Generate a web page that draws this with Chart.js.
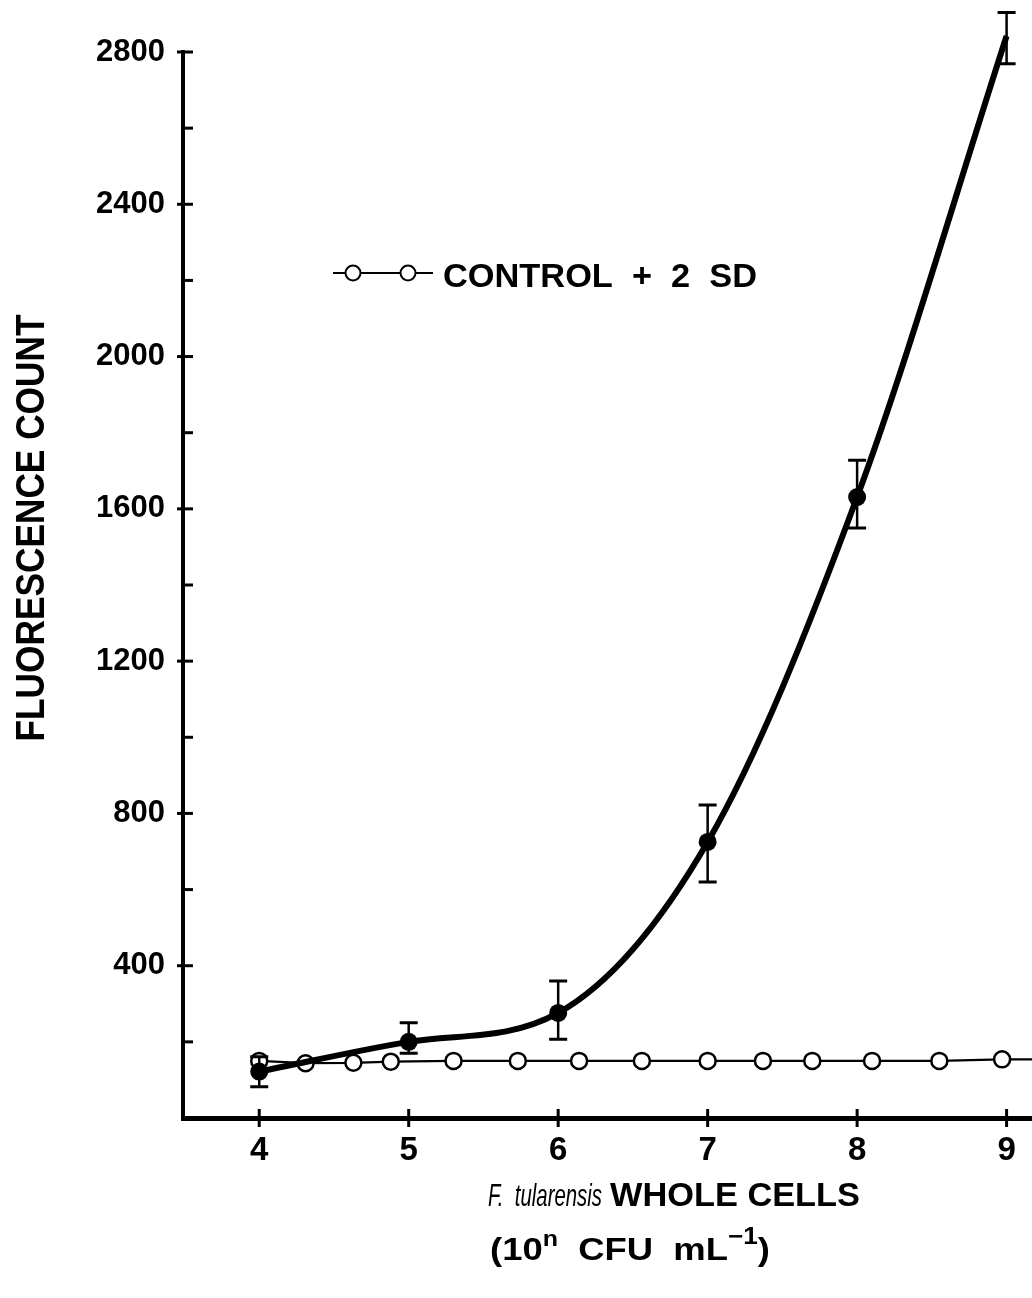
<!DOCTYPE html>
<html>
<head>
<meta charset="utf-8">
<script src="https://cdn.jsdelivr.net/npm/chart.js@4.4.1/dist/chart.umd.min.js"></script>
<style>
  html, body { margin: 0; padding: 0; background: #fff; }
</style>
</head>
<body>
<canvas id="chartFluorescence" width="1032" height="1298"></canvas>
<script>
// F. tularensis whole cells (log10 CFU/mL) vs fluorescence count
const cellLogs = [4, 5, 6, 7, 8, 9];
const fluorescence = [122, 200, 276, 725, 1631, 2842];
const errLow = [82, 170, 207, 620, 1550, 2769];
const errHigh = [161, 250, 360, 822, 1728, 2904];

// control + 2 SD baseline
const controlLogs = [4, 4.31, 4.63, 4.88, 5.3, 5.73, 6.14, 6.56, 7.0, 7.37, 7.7, 8.1, 8.55, 8.97, 9.3];
const controlCounts = [150, 144, 145, 148, 150, 150, 150, 150, 150, 150, 150, 150, 150, 154, 154];

const xTicks = [4, 5, 6, 7, 8, 9];
const yTicks = [0, 200, 400, 600, 800, 1000, 1200, 1400, 1600, 1800, 2000, 2200, 2400, 2600, 2800];
const yLabels = [400, 800, 1200, 1600, 2000, 2400, 2800];

const FONT = '"Liberation Sans", Arial, sans-serif';

// draws a run of text pieces squeezed to a given width
function drawRun(ctx, parts, x, y, width) {
  let total = 0;
  parts.forEach((p) => {
    ctx.font = p.font;
    p.w = ctx.measureText(p.text).width;
    total += p.w;
  });
  const sx = width ? width / total : 1;
  ctx.save();
  ctx.translate(x, y);
  ctx.scale(sx, 1);
  ctx.textAlign = 'left';
  ctx.textBaseline = 'alphabetic';
  let cx = 0;
  parts.forEach((p) => {
    ctx.font = p.font;
    ctx.fillText(p.text, cx, p.dy || 0);
    cx += p.w;
  });
  ctx.restore();
}

const decorations = {
  id: 'decorations',
  afterDatasetsDraw(chart) {
    const { ctx, chartArea } = chart;
    const xs = chart.scales.x;
    const ys = chart.scales.y;
    ctx.save();
    ctx.strokeStyle = '#000';
    ctx.fillStyle = '#000';
    ctx.lineCap = 'butt';

    // error bars
    cellLogs.forEach((v, i) => {
      const px = xs.getPixelForValue(v);
      const top = ys.getPixelForValue(errHigh[i]);
      const bot = ys.getPixelForValue(errLow[i]);
      ctx.lineWidth = 2.5;
      ctx.beginPath();
      ctx.moveTo(px, top);
      ctx.lineTo(px, bot);
      ctx.stroke();
      ctx.lineWidth = 3;
      ctx.beginPath();
      ctx.moveTo(px - 9, top);
      ctx.lineTo(px + 9, top);
      ctx.moveTo(px - 9, bot);
      ctx.lineTo(px + 9, bot);
      ctx.stroke();
    });

    // axis tick marks
    ctx.lineWidth = 3;
    const left = chartArea.left;
    yTicks.forEach((v) => {
      if (v === 0) return;
      const py = ys.getPixelForValue(v);
      const major = yLabels.includes(v);
      ctx.beginPath();
      ctx.moveTo(major ? left - 6 : left, py);
      ctx.lineTo(left + 10, py);
      ctx.stroke();
    });
    const bottom = chartArea.bottom;
    ctx.font = `bold 33px ${FONT}`;
    ctx.textAlign = 'center';
    ctx.textBaseline = 'alphabetic';
    xTicks.forEach((v) => {
      const px = xs.getPixelForValue(v);
      ctx.beginPath();
      ctx.moveTo(px, bottom - 9);
      ctx.lineTo(px, bottom + 9);
      ctx.stroke();
      ctx.fillText(String(v), px, 1160);
    });

    // legend
    ctx.lineWidth = 2;
    ctx.beginPath();
    ctx.moveTo(333, 273);
    ctx.lineTo(433, 273);
    ctx.stroke();
    [353, 408].forEach((cx) => {
      ctx.beginPath();
      ctx.arc(cx, 273, 7.5, 0, Math.PI * 2);
      ctx.fillStyle = '#fff';
      ctx.fill();
      ctx.stroke();
    });
    ctx.fillStyle = '#000';
    drawRun(ctx, [{ text: 'CONTROL  +  2  SD', font: `bold 34px ${FONT}` }], 443, 287, 314);

    // y title
    ctx.save();
    ctx.translate(44, 528);
    ctx.rotate(-Math.PI / 2);
    drawRun(ctx, [{ text: 'FLUORESCENCE COUNT', font: `bold 41px ${FONT}` }], -427 / 2, 0, 427);
    ctx.restore();

    // x title
    drawRun(ctx, [{ text: 'F.  tularensis', font: `italic 32px ${FONT}` }], 488, 1206, 114);
    drawRun(ctx, [{ text: 'WHOLE CELLS', font: `bold 33px ${FONT}` }], 610, 1206, 250);
    drawRun(ctx, [
      { text: '(10', font: `bold 32px ${FONT}` },
      { text: 'n', font: `bold 22px ${FONT}`, dy: -14 },
      { text: '  CFU  mL', font: `bold 32px ${FONT}` },
      { text: '\u22121', font: `bold 23px ${FONT}`, dy: -16 },
      { text: ')', font: `bold 32px ${FONT}` },
    ], 490, 1260, 280);

    ctx.restore();
  },
};

const ctx = document.getElementById('chartFluorescence').getContext('2d');
new Chart(ctx, {
  type: 'line',
  data: {
    datasets: [
      {
        label: 'F. tularensis',
        data: cellLogs.map((x, i) => ({ x, y: fluorescence[i] })),
        borderColor: '#000',
        backgroundColor: '#000',
        borderWidth: 6,
        pointRadius: 9,
        pointBorderWidth: 0,
        pointBackgroundColor: '#000',
        cubicInterpolationMode: 'monotone',
        clip: false,
      },
      {
        label: 'CONTROL + 2 SD',
        data: controlLogs.map((x, i) => ({ x, y: controlCounts[i] })),
        borderColor: '#000',
        borderWidth: 2.2,
        pointRadius: controlLogs.map((x) => (x > 9.1 ? 0 : 8)),
        pointBorderWidth: 2.5,
        pointBackgroundColor: '#fff',
        pointBorderColor: '#000',
        tension: 0,
      },
    ],
  },
  options: {
    responsive: false,
    animation: false,
    devicePixelRatio: 1,
    layout: { autoPadding: false, padding: { top: 52, right: 0, bottom: 0, left: 0 } },
    scales: {
      x: {
        type: 'linear',
        min: 3.49,
        max: 9.17,
        afterBuildTicks: (scale) => {
          scale.ticks = xTicks.map((value) => ({ value }));
        },
        afterFit: (scale) => {
          scale.height = 180;
          scale.paddingLeft = 0;
          scale.paddingRight = 0;
        },
        grid: { display: false, drawTicks: false },
        border: { display: true, color: '#000', width: 5 },
        ticks: { display: false },
      },
      y: {
        min: 0,
        max: 2800,
        afterBuildTicks: (scale) => {
          scale.ticks = yTicks.map((value) => ({ value }));
        },
        afterFit: (scale) => {
          scale.width = 183;
          scale.paddingTop = 0;
          scale.paddingBottom = 0;
        },
        grid: { display: false, drawTicks: false },
        border: { display: true, color: '#000', width: 4 },
        ticks: {
          color: '#000',
          padding: 18,
          font: { family: FONT, size: 31, weight: 'bold' },
          callback: (value) => (yLabels.includes(value) ? String(value) : ''),
        },
      },
    },
    plugins: {
      legend: { display: false },
      tooltip: { enabled: false },
    },
  },
  plugins: [decorations],
});
</script>
</body>
</html>
